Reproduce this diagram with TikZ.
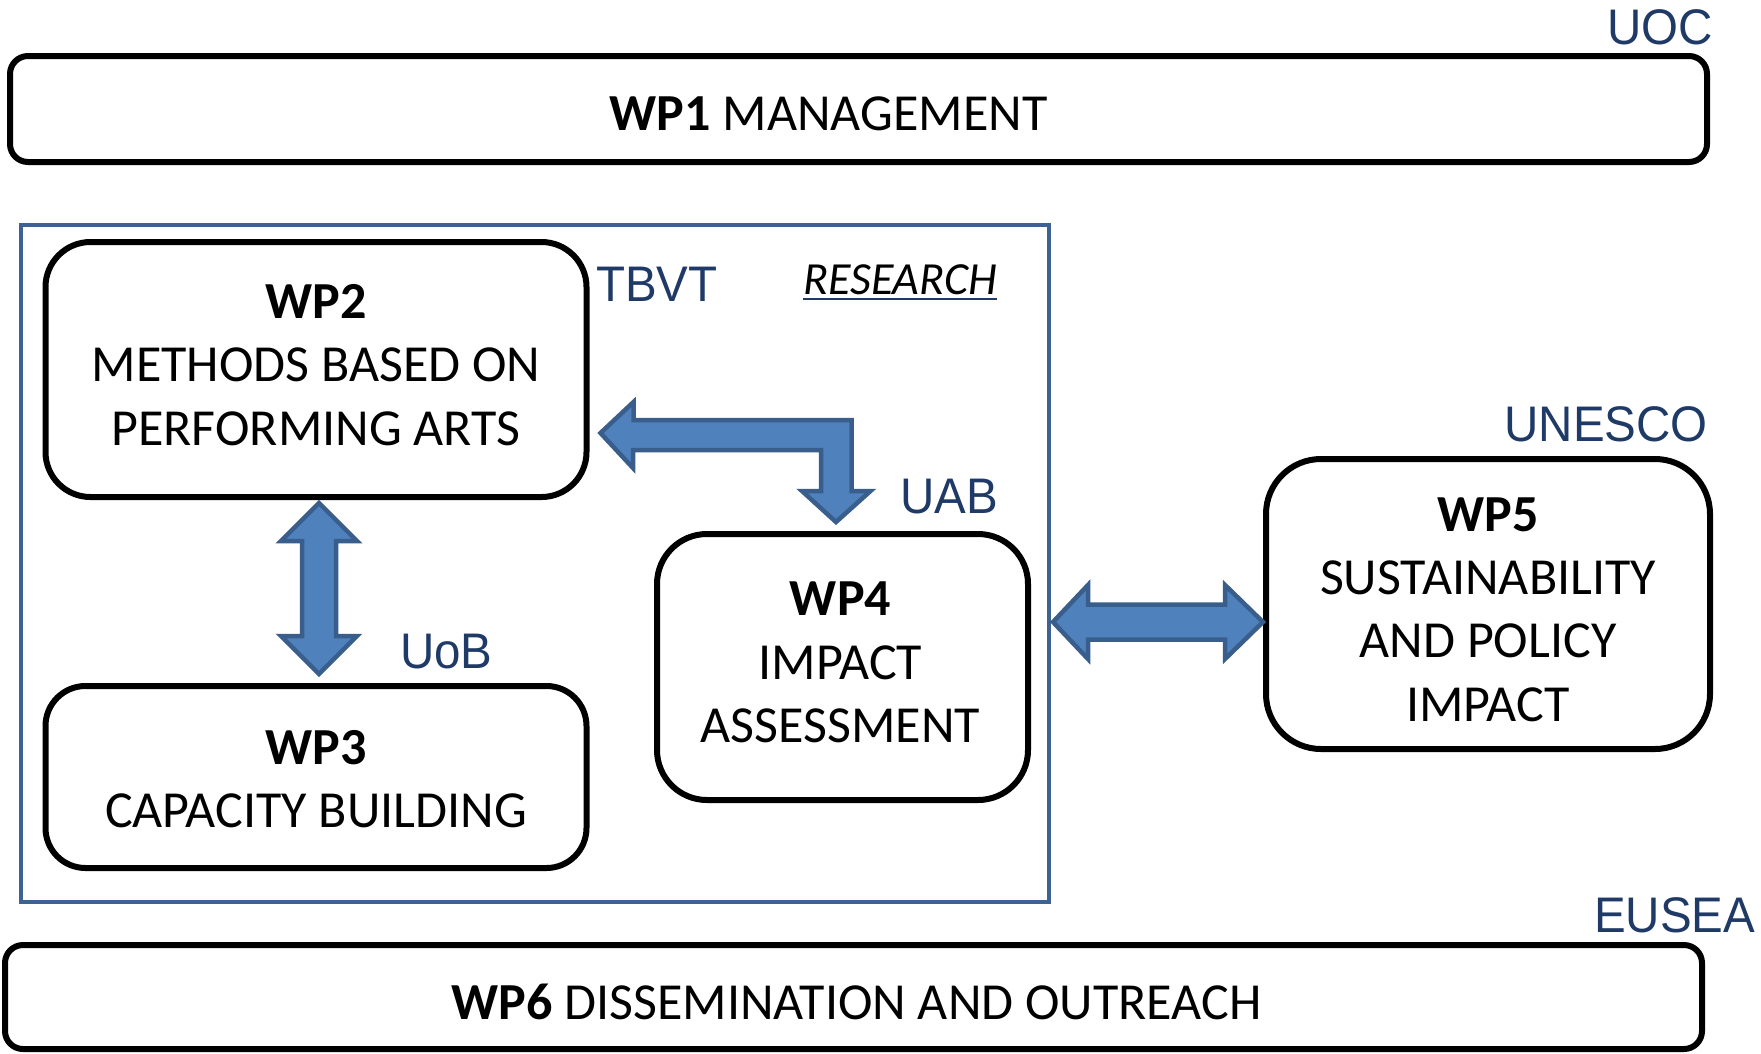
\documentclass[tikz,border=0pt]{standalone}
\usepackage{fontspec}
\setmainfont{Carlito}
\newfontfamily\labfont[FakeStretch=0.95]{Liberation Sans}
\usetikzlibrary{calc}
\definecolor{labblue}{RGB}{31,58,102}
\definecolor{frameblue}{RGB}{61,99,148}
\definecolor{arrowfill}{RGB}{79,129,189}
\definecolor{arrowdraw}{RGB}{58,94,140}
\begin{document}
\begin{tikzpicture}[x=1pt,y=-1pt,
  wpbox/.style={draw=black, line width=6pt, fill=white, inner sep=0pt},
  wptext/.style={align=center, inner sep=0pt, font=\fontsize{52}{63.3}\selectfont},
  partner/.style={text=labblue, inner sep=0pt, font=\labfont\fontsize{50}{60}\selectfont},
  blockarrow/.style={draw=arrowdraw, fill=arrowfill, line width=4.5pt, line join=miter}]
\useasboundingbox (0,0) rectangle (1761,1053);

% research frame
\node[draw=frameblue, line width=4.5pt, minimum width=1028pt, minimum height=677pt, inner sep=0pt]
  (research) at (535,563.5) {};

% work package boxes
\node[wpbox, rounded corners=18pt, minimum width=1697pt, minimum height=106pt] (wp1) at (858.5,109) {};
\node[wpbox, rounded corners=18pt, minimum width=1697pt, minimum height=104pt] (wp6) at (853.5,997) {};
\node[wpbox, rounded corners=45pt, minimum width=541pt, minimum height=255pt] (wp2) at (316,369.5) {};
\node[wpbox, rounded corners=40pt, minimum width=541pt, minimum height=182pt] (wp3) at (316,777) {};
\node[wpbox, rounded corners=50pt, minimum width=371pt, minimum height=266pt] (wp4) at (842.5,667) {};
\node[wpbox, rounded corners=55pt, minimum width=444pt, minimum height=290pt] (wp5) at (1488,604) {};

% box texts
\node[wptext] (wp1t) at ([xshift=-30pt,yshift=-4.5pt]wp1.center) {\textbf{WP1} MANAGEMENT};
\node[wptext] (wp6t) at ([xshift=3pt,yshift=-4.5pt]wp6.center) {\textbf{WP6} DISSEMINATION AND OUTREACH};
\node[wptext] (wp2t) at ([yshift=4.5pt]wp2.center) {\textbf{WP2}\\METHODS BASED ON\\PERFORMING ARTS};
\node[wptext] (wp3t) at ([yshift=-2pt]wp3.center) {\textbf{WP3}\\CAPACITY BUILDING};
\node[wptext] (wp4t) at ([xshift=-2pt,yshift=4.5pt]wp4.center) {\textbf{WP4}\\IMPACT\\ASSESSMENT};
\node[wptext] (wp5t) at ([yshift=-5.5pt]wp5.center) {\textbf{WP5}\\SUSTAINABILITY\\AND POLICY\\IMPACT};

% partner labels
\node[partner, anchor=base east] (uoc) at (1713,44) {UOC};
\node[partner, anchor=base west] (tbvt) at (596,301) {TBVT};
\node[partner, anchor=base west] (uab) at (900,513) {UAB};
\node[partner, anchor=base west] (uob) at (400,668) {UoB};
\node[partner, anchor=base east] (unesco) at (1708,441) {UNESCO};
\node[partner, anchor=base west] (eusea) at (1594,932) {EUSEA};

% research label
\node[anchor=base west, inner sep=0pt, font=\fontsize{46}{55}\selectfont\itshape] (res) at (803,294) {RESEARCH};
\draw[labblue, line width=2.5pt] ([yshift=-5pt]res.base west) -- ([yshift=-5pt]res.base east);

% vertical double arrow WP2 <-> WP3
\coordinate (v1) at ([xshift=3pt,yshift=-3pt]wp2.south);
\coordinate (v2) at ([xshift=3pt,yshift=9pt]wp3.north);
\draw[blockarrow] (v1) -- ++(38,38) -- ++(-21,0) -- ($(v2)+(17,-38)$) -- ++(21,0) -- (v2)
  -- ++(-38,-38) -- ++(21,0) -- ($(v1)+(-17,38)$) -- ++(-21,0) -- cycle;

% bent double arrow WP2 <-> WP4
\coordinate (b1) at ($(wp2.east)+(11,63.5)$);
\coordinate (b2) at ($(wp4.north)+(-6.5,-9)$);
\draw[blockarrow] (b1) -- ++(33,-31) -- ++(0,18) -- ++(218,0) -- ++(0,71) -- ++(19,0) -- (b2)
  -- ++(-34,-31) -- ++(19,0) -- ++(0,-41) -- ++(-188,0) -- ++(0,18) -- cycle;

% horizontal double arrow WP4 <-> WP5
\coordinate (h1) at ($(wp4.east)+(22,-45)$);
\coordinate (h2) at (wp5.west |- h1);
\draw[blockarrow] (h1) -- ++(35,-37) -- ++(0,19.5) -- ($(h2)+(-38,-17.5)$) -- ++(0,-19.5) -- (h2)
  -- ++(-38,37) -- ++(0,-19.5) -- ($(h1)+(35,17.5)$) -- ++(0,19.5) -- cycle;
\end{tikzpicture}
\end{document}
